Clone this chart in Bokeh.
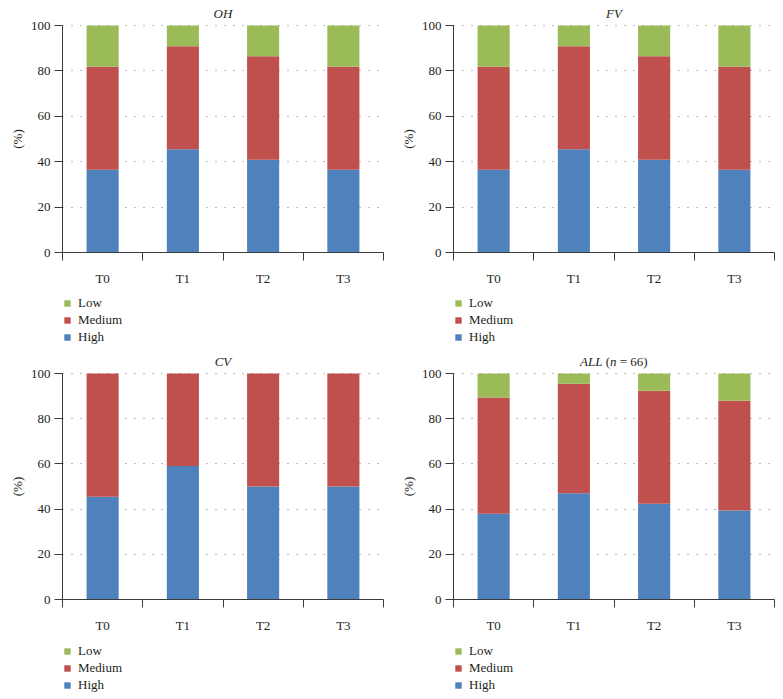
import math
from bokeh.plotting import figure
from bokeh.models import (Range1d, FixedTicker, Legend, LegendItem, Label)
from bokeh.layouts import column, row
from bokeh.embed import file_html
from bokeh.resources import INLINE

# ---- data ----
categories = ["T0", "T1", "T2", "T3"]
levels = ["High", "Medium", "Low"]          # stacking order bottom -> top
legend_order = ["Low", "Medium", "High"]

OH_high = [36.4, 45.5, 40.9, 36.4]
OH_medium = [45.4, 45.4, 45.5, 45.4]
OH_low = [18.2, 9.1, 13.6, 18.2]

FV_high = [36.4, 45.5, 40.9, 36.4]
FV_medium = [45.4, 45.4, 45.5, 45.4]
FV_low = [18.2, 9.1, 13.6, 18.2]

CV_high = [45.5, 59.1, 50.0, 50.0]
CV_medium = [54.5, 40.9, 50.0, 50.0]
CV_low = [0.0, 0.0, 0.0, 0.0]

ALL_high = [37.9, 47.0, 42.4, 39.4]
ALL_medium = [51.5, 48.5, 50.0, 48.5]
ALL_low = [10.6, 4.5, 7.6, 12.1]

y_ticks = [0, 20, 40, 60, 80, 100]
y_label = "(%)"

colors = {"High": "#4F81BD", "Medium": "#C0504D", "Low": "#9BBB59"}
FONT = "'Liberation Serif', serif"
TXT = "#231F20"
AX = "#3a3a3a"

# layout (pixels): plot area inside each figure
LEFT, AREA_W, TOP = 62, 321, 25


def make_panel(title_parts, high, medium, low, width, height, area_h, legend_y):
    n = len(categories)
    pxu = AREA_W / n
    x0 = -LEFT / pxu
    x1 = n + (width - LEFT - AREA_W) / pxu
    pyu = area_h / 100.0
    y1 = 100 + TOP / pyu
    y0 = -(height - TOP - area_h) / pyu
    p = figure(width=width, height=height, output_backend="svg", toolbar_location=None,
               title=None, x_range=Range1d(x0, x1), y_range=Range1d(y0, y1),
               min_border=0, outline_line_color=None)
    p.xgrid.visible = False
    xs = [i + 0.5 for i in range(n)]
    data = {"x": xs, "High": high, "Medium": medium, "Low": low}
    rs = p.vbar_stack(levels, x="x", width=0.4, source=data,
                      color=[colors[l] for l in levels], line_color=None)
    rmap = dict(zip(levels, rs))

    # y axis
    ya = p.yaxis[0]
    ya.fixed_location = 0
    ya.bounds = (0, 100)
    ya.ticker = FixedTicker(ticks=y_ticks, minor_ticks=[])
    ya.major_tick_out = 8
    ya.major_tick_in = 0
    ya.minor_tick_out = 0
    ya.major_label_standoff = 4
    ya.major_label_text_font = FONT
    ya.major_label_text_font_size = "13px"
    ya.major_label_text_color = TXT
    ya.axis_line_color = AX
    ya.major_tick_line_color = AX

    # x axis: labels at centres, ticks at category boundaries
    xa = p.xaxis[0]
    xa.fixed_location = 0
    xa.bounds = (0, n)
    xa.ticker = FixedTicker(ticks=xs, minor_ticks=list(range(n + 1)))
    xa.major_label_overrides = {x: c for x, c in zip(xs, categories)}
    xa.major_tick_out = 0
    xa.major_tick_in = 0
    xa.minor_tick_out = 8
    xa.minor_tick_in = 0
    xa.minor_tick_line_color = AX
    xa.axis_line_color = AX
    xa.major_label_standoff = 10
    xa.major_label_text_font = FONT
    xa.major_label_text_font_size = "13px"
    xa.major_label_text_color = TXT

    # dotted horizontal grid, limited to the plot area
    p.ygrid.ticker = FixedTicker(ticks=y_ticks)
    p.ygrid.cross_bounds = (0, n)
    p.ygrid.grid_line_color = "#7a7a7a"
    p.ygrid.grid_line_dash = "1 8"
    p.ygrid.grid_line_width = 1

    # y axis label
    p.add_layout(Label(x=0, y=50, x_offset=-45, text=y_label, angle=math.pi / 2,
                       text_font=FONT, text_font_size="13px", text_color=TXT,
                       text_align="center", text_baseline="middle"))

    # title made of pieces (italic / normal)
    for text, style, off in title_parts:
        p.add_layout(Label(x=n / 2, y=100, x_offset=off, y_offset=12,
                           text=text, text_font=FONT, text_font_size="13px",
                           text_font_style=style, text_color=TXT,
                           text_align="left" if len(title_parts) > 1 else "center",
                           text_baseline="middle"))

    legend = Legend(items=[LegendItem(label=l, renderers=[rmap[l]]) for l in legend_order],
                    location=(LEFT + 1, legend_y), orientation="vertical",
                    glyph_width=8, glyph_height=8, label_standoff=7,
                    label_height=17, spacing=0, padding=0, margin=0,
                    label_text_font=FONT, label_text_font_size="13px",
                    label_text_color=TXT, background_fill_alpha=0,
                    border_line_color=None)
    p.add_layout(legend, "center")
    return p


W1, W2 = 391, 392
H1, H2 = 348, 351
p1 = make_panel([("OH", "italic", 0)], OH_high, OH_medium, OH_low, W1, H1, 227, 3)
p2 = make_panel([("FV", "italic", 0)], FV_high, FV_medium, FV_low, W2, H1, 227, 3)
p3 = make_panel([("CV", "italic", 0)], CV_high, CV_medium, CV_low, W1, H2, 226, 6)
p4 = make_panel([("ALL", "italic", -34), ("(", "normal", -8.3), ("n", "italic", -4.0),
                 ("=", "normal", 5.7), ("66)", "normal", 16.3)],
                ALL_high, ALL_medium, ALL_low, W2, H2, 226, 6)

layout = column(row(p1, p2, spacing=0), row(p3, p4, spacing=0), spacing=0)
open("out.html", "w").write(file_html(layout, INLINE))
